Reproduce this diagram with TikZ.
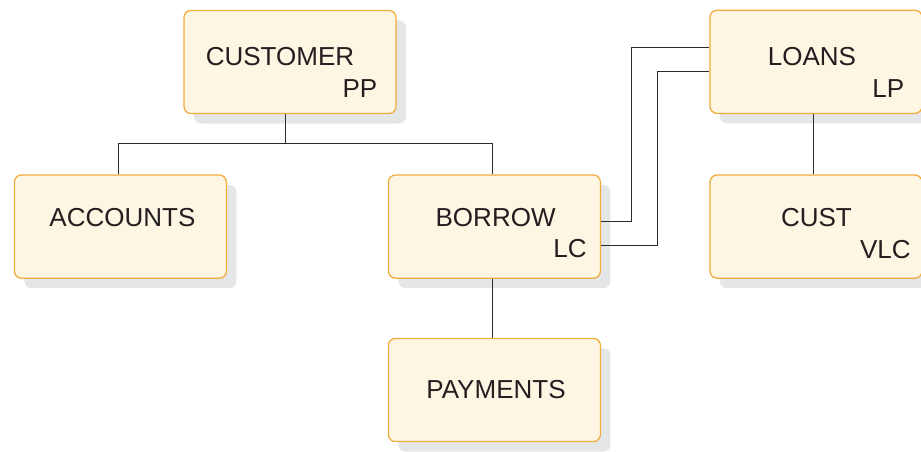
\documentclass[tikz,border=0pt]{standalone}
\usepackage{fontspec}
\setmainfont{Liberation Sans}
\usetikzlibrary{shadows}
\definecolor{c1}{HTML}{231F20}
\definecolor{c2}{HTML}{F0AC3C}
\definecolor{c3}{HTML}{FDF6E3}
\definecolor{c4}{HTML}{E5E6E8}
\definecolor{linecolor}{HTML}{2B2B2B}

\begin{document}
\begin{tikzpicture}[
    every node/.style={font=\fontsize{18.5}{22}\selectfont, text=c1, inner sep=0pt},
    conn/.style={line width=0.8pt, color=linecolor},
    seg/.style={
        rectangle, rounded corners=5pt, draw=c2, fill=c3, line width=0.9pt,
        minimum width=5.30cm, minimum height=2.58cm,
        drop shadow={shadow xshift=0.25cm, shadow yshift=-0.25cm, fill=c4, opacity=1},
    },
    rule/.style={anchor=east},
]
\useasboundingbox (0,0) rectangle (23.025,11.275);

% ================================================================ segments
\node[seg] (customer) at ( 7.25, 9.725) {};
\node[seg] (accounts) at ( 3.01, 5.61) {};
\node[seg] (borrow)   at (12.36, 5.61) {};
\node[seg] (payments) at (12.36, 1.525) {};
\node[seg] (loans)    at (20.40, 9.73) {};
\node[seg] (cust)     at (20.40, 5.61) {};

% ================================================================ names and rules
\node (customertxt) at ( 7.00, 9.85) {CUSTOMER};
\node[rule] (customerrule) at ( 9.44, 9.05) {PP};
\node (accountstxt) at ( 3.06, 5.84) {ACCOUNTS};
\node (borrowtxt)   at (12.39, 5.84) {BORROW};
\node[rule] (borrowrule) at (14.675, 5.05) {LC};
\node (paymentstxt) at (12.40, 1.54) {PAYMENTS};
\node (loanstxt)    at (20.30, 9.85) {LOANS};
\node[rule] (loansrule) at (22.61, 9.05) {LP};
\node (custtxt)     at (20.41, 5.84) {CUST};
\node[rule] (custrule) at (22.775, 5.04) {VLC};

% ================================================================ connectors
\draw[conn] ([xshift=-0.11cm]customer.south) -- ++(0,-0.74) -| ([xshift=-0.05cm]accounts.north);
\draw[conn] ([xshift=-0.11cm]customer.south) ++(0,-0.74) -| ([xshift=-0.05cm]borrow.north);
\draw[conn] ([xshift=-0.05cm]borrow.south) -- ([xshift=-0.05cm]payments.north);
\draw[conn] ([xshift=-0.07cm]loans.south) -- ([xshift=-0.07cm]cust.north);

% logical links borrow - loans
\draw[conn] ([yshift=0.12cm]borrow.east) -- ++(0.76,0) |- ([yshift=0.36cm]loans.west);
\draw[conn] ([yshift=-0.48cm]borrow.east) -- ++(1.42,0) |- ([yshift=-0.25cm]loans.west);

\end{tikzpicture}
\end{document}
